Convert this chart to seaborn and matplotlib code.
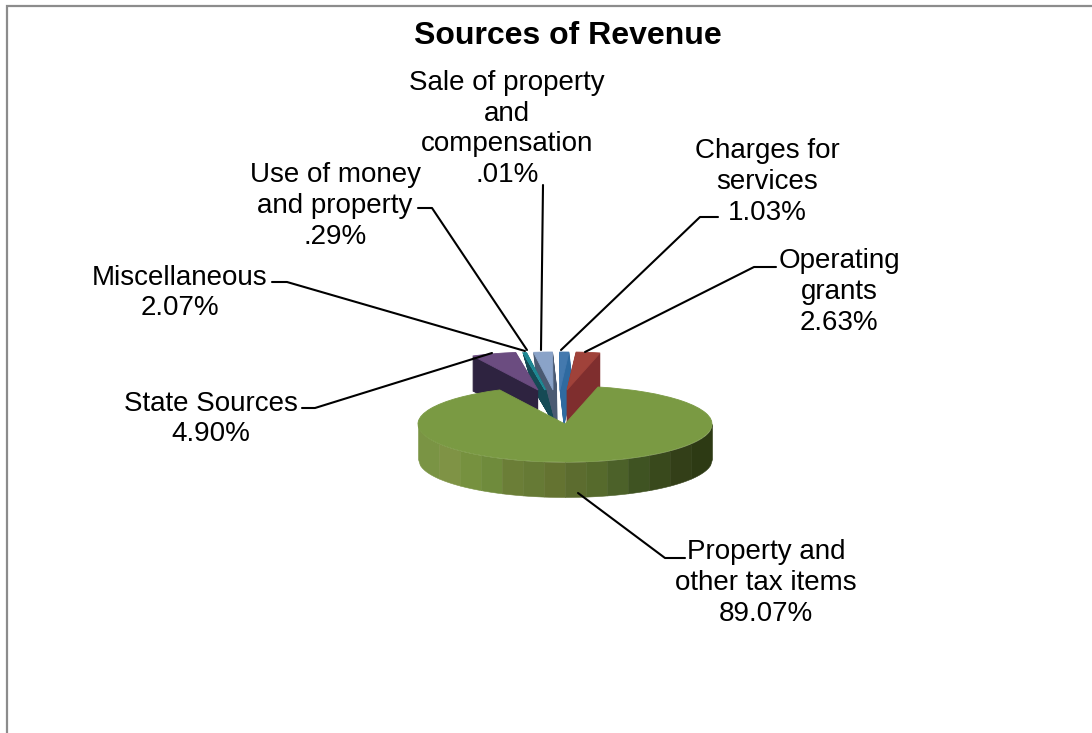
# sources_of_revenue.py

import numpy as np
import matplotlib
matplotlib.use("Agg")
import matplotlib.pyplot as plt
import seaborn as sns

# Data, clockwise from the top right of the pie
categories = ["Property and\nother tax items", "State Sources", "Sale of property\nand\ncompensation",
              "Use of money\nand property", "Miscellaneous", "Charges for\nservices", "Operating\ngrants"]
shares = [89.07, 4.90, 0.01, 0.29, 2.07, 1.03, 2.63]
share_labels = ["89.07%", "4.90%", ".01%", ".29%", "2.07%", "1.03%", "2.63%"]

top_colors = ["#7a9a43", "#6b4c80", "#1f8a95", "#1f8a95", "#8aa3c8", "#4479ae", "#a0423a"]
side_colors = ["#5c6c2f", "#2e2340", "#154a55", "#154a55", "#4a5a72", "#2f6aa0", "#7f2e2e"]
rim_colors = ["#7a9444", "#7f9345", "#76913f", "#6f8b3c", "#6b7e37", "#667a35", "#647331",
              "#5c6c2f", "#566a2c", "#4c6129", "#3f5322", "#39491c", "#333f18", "#2d3a14"]

# Geometry in reference pixels
CX, CY = 565, 424
RX, RY = 147, 38
DEPTH = 35
LIFT = 34
START = 77
top_shift = [0, -27, -20, -19, -12, -5, 2]
base_shift = [0, -27, -10, -10, -8, -1, 2]

sns.set_theme(style="white")
plt.rcParams["font.family"] = ["Liberation Sans", "DejaVu Sans"]

fig = plt.figure(figsize=(10.92, 7.33), dpi=100)

# pie axes: one data unit is the pie radius, squashed to look tilted
ax = fig.add_axes([0, 0, 1, 1])


def draw_pie(d, colors, which):
    wedges, _ = ax.pie(shares, startangle=START, counterclock=False, colors=colors,
                       wedgeprops={"linewidth": 0.6})
    for i, w in enumerate(wedges):
        if i in which:
            s = top_shift[i] + (base_shift[i] - top_shift[i]) * d / DEPTH
            w.set_center((s / RX, (LIFT - d) / RY))
            w.set_edgecolor(colors[i])
        else:
            w.remove()


small = range(1, len(shares))

# the small slices stand raised behind the big one
for d in range(DEPTH, 0, -1):
    draw_pie(d, side_colors, small)
draw_pie(0, top_colors, small)

# rim of the big slice, shaded left to right
edges = np.linspace(-1, 1, len(rim_colors) + 1)
rim = sns.blend_palette(rim_colors, len(rim_colors))
for a, b, col in zip(edges[:-1], edges[1:], rim):
    xs = np.linspace(a, b, 12)
    upper = -np.sqrt(np.clip(1 - xs ** 2, 0, 1))
    ax.fill_between(xs, upper, upper - DEPTH / RY, color=col, linewidth=0.4)

draw_pie(LIFT, top_colors, [0])

ax.set_aspect("auto")
ax.set_xlim(-CX / RX, (1092 - CX) / RX)
ax.set_ylim((CY - 733) / RY, CY / RY)
ax.axis("off")

# overlay in reference pixels for the frame, texts and leader lines
ov = fig.add_axes([0, 0, 1, 1], facecolor="none")
ov.set_xlim(0, 1092)
ov.set_ylim(733, 0)
ov.axis("off")

ov.plot([7, 7, 1092], [733, 6, 6], color="#8c8c8c", lw=1.6, solid_joinstyle="miter")

ov.text(568, 36, "Sources of Revenue", fontsize=23, fontweight="bold", ha="center", va="center", color="black")

label_pos = [(766, 583), (211, 419), (507, 129), (335, 206), (180, 293), (767, 182), (839, 292)]
leaders = [
    ([685, 665, 578], [558, 558, 493]),
    ([302, 315, 492], [408, 408, 353]),
    ([543, 541], [185, 350]),
    ([418, 432, 527], [208, 208, 350]),
    ([272, 287, 525], [282, 282, 351]),
    ([718, 700, 561], [217, 217, 350]),
    ([776, 754, 585], [267, 267, 352]),
]
for cat, lab, (x, y), (lx, ly) in zip(categories, share_labels, label_pos, leaders):
    ov.text(x, y, cat + "\n" + lab, fontsize=20, ha="center", va="center", color="black", linespacing=1.24)
    ov.plot(lx, ly, color="black", lw=1.5)

plt.savefig("out.png", dpi=100)
